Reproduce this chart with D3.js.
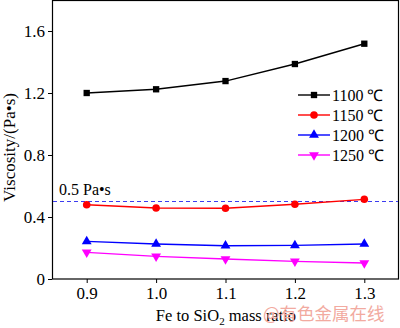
<!DOCTYPE html>
<html>
<head>
<meta charset="utf-8">
<script src="https://cdn.jsdelivr.net/npm/d3@7"></script>
<style>
  body { margin: 0; background: #fff; }
  svg { display: block; }
  svg text { font-family: "Liberation Serif", "Times New Roman", serif; }
</style>
</head>
<body>
<div id="chart"></div>
<script>
const width = 400, height = 328;
const margin = {left: 52, right: 1, top: 0, bottom: 49};

const ratios = [0.9, 1.0, 1.1, 1.2, 1.3];
const seriesNames = ['1100 ℃', '1150 ℃', '1200 ℃', '1250 ℃'];
const v1100 = [1.200, 1.224, 1.277, 1.387, 1.518];
const v1150 = [0.479, 0.458, 0.456, 0.482, 0.514];
const v1200 = [0.243, 0.226, 0.215, 0.217, 0.226];
const v1250 = [0.172, 0.146, 0.129, 0.114, 0.103];
const yTicks = [0, 0.4, 0.8, 1.2, 1.6];
const limitValue = 0.5;
const colors = ['#000000', '#ff0000', '#0000ff', '#ff00ff'];
const symbols = ['square', 'circle', 'up', 'down'];

const series = [v1100, v1150, v1200, v1250].map((vals, i) => ({
  name: seriesNames[i], color: colors[i], symbol: symbols[i],
  points: vals.map((v, j) => ({x: ratios[j], y: v}))
}));

let svg = d3.select('#chart').append('svg')
  .attr('width', width).attr('height', height);

const x = d3.scaleLinear().domain([0.85, 1.35]).range([margin.left, width - margin.right]);
const y = d3.scaleLinear().domain([0, 1.8]).range([height - margin.bottom, margin.top]);

// frame
svg.append('rect')
  .attr('x', margin.left + 0.5).attr('y', margin.top + 0.5)
  .attr('width', width - margin.left - margin.right - 1)
  .attr('height', height - margin.top - margin.bottom - 0.5)
  .attr('fill', 'none').attr('stroke', '#000').attr('stroke-width', 1.2);

// axes
const xAxis = d3.axisBottom(x).tickValues(ratios).tickFormat(d3.format('.1f')).tickSize(4).tickSizeOuter(0);
const yAxis = d3.axisLeft(y).tickValues(yTicks).tickFormat(d => d === 0 ? '0' : d3.format('.1f')(d)).tickSize(4).tickSizeOuter(0);

let gx = svg.append('g').attr('transform', 'translate(0,' + (height - margin.bottom) + ')').call(xAxis);
gx.select('.domain').remove();
gx.selectAll('text').style('font-size', '17px').attr('fill', '#000').attr('dy', '0.77em');

let gy = svg.append('g').attr('transform', 'translate(' + margin.left + ',0)').call(yAxis);
gy.select('.domain').remove();
gy.selectAll('text').style('font-size', '17px').attr('fill', '#000').attr('x', -7);

// axis titles
svg.append('text')
  .attr('transform', 'translate(15,' + ((height - margin.bottom) / 2 + 8) + ') rotate(-90)')
  .attr('text-anchor', 'middle').style('font-size', '17px').text('Viscosity/(Pa•s)');

let xt = svg.append('text')
  .attr('x', 226).attr('y', 321)
  .attr('text-anchor', 'middle').style('font-size', '16.5px');
xt.append('tspan').text('Fe to SiO');
xt.append('tspan').style('font-size', '11px').attr('dy', 4).text('2');
xt.append('tspan').attr('dy', -4).text(' mass ratio');

// 0.5 Pa·s reference line
svg.append('line')
  .attr('x1', margin.left + 1).attr('x2', width - margin.right - 1)
  .attr('y1', y(limitValue)).attr('y2', y(limitValue))
  .attr('stroke', '#3c3cf0').attr('stroke-width', 1).attr('stroke-dasharray', '4,3');
svg.append('text')
  .attr('x', 59).attr('y', y(limitValue) - 7)
  .style('font-size', '16px').text('0.5 Pa•s');

// series
const line = d3.line().x(d => x(d.x)).y(d => y(d.y));
function markerPath(kind) {
  if (kind === 'square') return d3.symbol().type(d3.symbolSquare).size(40)();
  if (kind === 'circle') return d3.symbol().type(d3.symbolCircle).size(45)();
  return d3.symbol().type(d3.symbolTriangle).size(42)();
}
function markerRot(kind) {
  return kind === 'down' ? ' rotate(180)' : '';
}

series.forEach(s => {
  svg.append('path').datum(s.points)
    .attr('d', line).attr('fill', 'none')
    .attr('stroke', s.color).attr('stroke-width', 1.4);
  svg.selectAll(null).data(s.points).enter().append('path')
    .attr('transform', d => 'translate(' + x(d.x) + ',' + y(d.y) + ')' + markerRot(s.symbol))
    .attr('fill', s.color)
    .attr('d', markerPath(s.symbol));
});

// legend
const lg = svg.append('g').attr('transform', 'translate(298,95)');
series.forEach((s, i) => {
  const row = lg.append('g').attr('transform', 'translate(0,' + (i * 20) + ')');
  row.append('line').attr('x1', 0).attr('x2', 32).attr('y1', 0).attr('y2', 0)
    .attr('stroke', s.color).attr('stroke-width', 1.4);
  row.append('path').attr('transform', 'translate(16,0)' + markerRot(s.symbol))
    .attr('fill', s.color).attr('d', markerPath(s.symbol));
  row.append('text').attr('x', 34).attr('y', 6).style('font-size', '16px').text(s.name);
});

// watermark
svg.append('text')
  .attr('x', 263).attr('y', 320)
  .style('font-size', '17.5px')
  .style('font-family', '"Noto Sans CJK SC", sans-serif')
  .attr('fill', '#f2aaa0').text('@有色金属在线');
</script>
</body>
</html>
